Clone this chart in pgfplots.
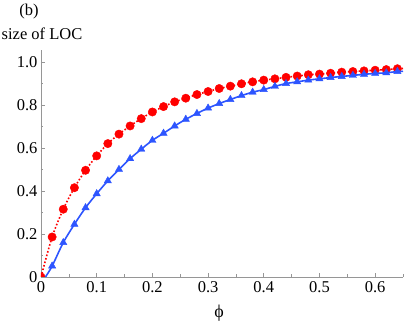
\documentclass[border=0pt]{standalone}
\usepackage{fontspec}
\setmainfont{Liberation Serif}
\usepackage{pgfplots}
\pgfplotsset{compat=1.18}
\definecolor{myred}{RGB}{255,0,0}
\definecolor{myblue}{RGB}{45,85,255}
\definecolor{axgray}{RGB}{150,150,150}
\begin{document}
\begin{tikzpicture}[x=1pt,y=1pt]
\useasboundingbox (-41,-46) rectangle (368,277);
\begin{axis}[
  at={(0,0)}, anchor=south west,
  scale only axis, width=362pt, height=227pt,
  xmin=0, xmax=0.65, ymin=0, ymax=1.055,
  axis lines=left, axis line style={axgray, -},
  tick align=inside,
  xtick={0,0.1,0.2,0.3,0.4,0.5,0.6},
  xticklabels={0,0.1,0.2,0.3,0.4,0.5,0.6},
  ytick={0,0.2,0.4,0.6,0.8,1.0},
  yticklabels={0,0.2,0.4,0.6,0.8,1.0},
  minor ytick={0.1,0.3,0.5,0.7,0.9},
  minor xtick={0.05,0.15,0.25,0.35,0.45,0.55,0.65},
  major tick length=4pt, minor tick length=2.5pt,
  tick style={axgray, line width=0.6pt},
  every tick label/.append style={font=\fontsize{16.5}{18}\selectfont, text=black},
  /pgf/number format/assume math mode=true,
  xticklabel style={yshift=-1pt},
  clip=true, clip marker paths=true,
]
\addplot[myred, line width=1.6pt, dotted, smooth] coordinates {
(0,0) (0.02,0.186) (0.04,0.315) (0.06,0.415) (0.08,0.496) (0.10,0.563)
(0.12,0.62) (0.14,0.664) (0.16,0.702) (0.18,0.736) (0.20,0.767)
(0.22,0.792) (0.24,0.814) (0.26,0.831) (0.28,0.848) (0.30,0.862)
(0.32,0.876) (0.34,0.887) (0.36,0.898) (0.38,0.907) (0.40,0.915)
(0.42,0.921) (0.44,0.928) (0.46,0.934) (0.48,0.94) (0.50,0.943)
(0.52,0.947) (0.54,0.952) (0.56,0.955) (0.58,0.958) (0.60,0.961)
(0.62,0.964) (0.64,0.968) (0.65,0.969)
};
\addplot[only marks, mark=*, mark size=4.2pt, myred, mark options={fill=myred, draw=myred}] coordinates {
(0,0) (0.02,0.186) (0.04,0.315) (0.06,0.415) (0.08,0.496) (0.10,0.563)
(0.12,0.62) (0.14,0.664) (0.16,0.702) (0.18,0.736) (0.20,0.767)
(0.22,0.792) (0.24,0.814) (0.26,0.831) (0.28,0.848) (0.30,0.862)
(0.32,0.876) (0.34,0.887) (0.36,0.898) (0.38,0.907) (0.40,0.915)
(0.42,0.921) (0.44,0.928) (0.46,0.934) (0.48,0.94) (0.50,0.943)
(0.52,0.947) (0.54,0.952) (0.56,0.955) (0.58,0.958) (0.60,0.961)
(0.62,0.964) (0.64,0.968)
};
\addplot[myblue, line width=1.6pt, smooth] coordinates {
(0.008,0) (0.02,0.051) (0.04,0.16) (0.06,0.245) (0.08,0.322) (0.10,0.387)
(0.12,0.447) (0.14,0.50) (0.16,0.55) (0.18,0.594) (0.20,0.635)
(0.22,0.668) (0.24,0.702) (0.26,0.733) (0.28,0.76) (0.30,0.785)
(0.32,0.806) (0.34,0.825) (0.36,0.843) (0.38,0.859) (0.40,0.871)
(0.42,0.886) (0.44,0.899) (0.46,0.907) (0.48,0.915) (0.50,0.921)
(0.52,0.927) (0.54,0.932) (0.56,0.937) (0.58,0.942) (0.60,0.946)
(0.62,0.949) (0.64,0.955) (0.65,0.956)
};
\addplot[only marks, mark=triangle*, mark size=4.2pt, myblue, mark options={fill=myblue, draw=myblue}] coordinates {
(0.02,0.051) (0.04,0.16) (0.06,0.245) (0.08,0.322) (0.10,0.387)
(0.12,0.447) (0.14,0.50) (0.16,0.55) (0.18,0.594) (0.20,0.635)
(0.22,0.668) (0.24,0.702) (0.26,0.733) (0.28,0.76) (0.30,0.785)
(0.32,0.806) (0.34,0.825) (0.36,0.843) (0.38,0.859) (0.40,0.871)
(0.42,0.886) (0.44,0.899) (0.46,0.907) (0.48,0.915) (0.50,0.921)
(0.52,0.927) (0.54,0.932) (0.56,0.937) (0.58,0.942) (0.60,0.946)
(0.62,0.949) (0.64,0.955)
};
\end{axis}
\node[font=\fontsize{16.5}{18}\selectfont] at (-12,265) {(b)};
\node[font=\fontsize{16.5}{18}\selectfont] at (1,243) {size of LOC};
\node[font=\fontsize{18}{20}\selectfont] at (178,-36) {ϕ};
\end{tikzpicture}
\end{document}
